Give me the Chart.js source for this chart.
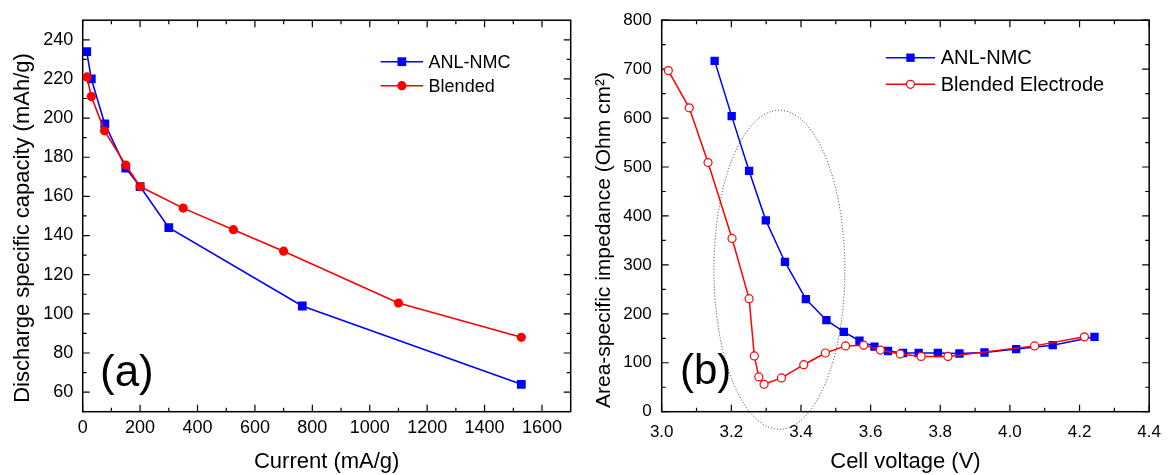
<!DOCTYPE html>
<html>
<head>
<meta charset="utf-8">
<script src="https://cdn.jsdelivr.net/npm/chart.js@4.4.1/dist/chart.umd.min.js"></script>
<style>
  html, body { margin: 0; padding: 0; background: #fff; }
  #wrap { position: relative; width: 1171px; height: 475px; }
  #chartA { position: absolute; left: 0; top: 0; }
  #chartB { position: absolute; left: 580px; top: 0; }
</style>
</head>
<body>
<div id="wrap">
  <canvas id="chartA" width="580" height="475"></canvas>
  <canvas id="chartB" width="591" height="475"></canvas>
</div>
<script>
// panel (a): discharge capacity vs current
const currentAnl = [14, 30, 77, 150, 200, 300, 765, 1528];
const capacityAnl = [234, 220, 197, 174.5, 165, 144, 104, 64];
const currentBlend = [15, 30, 76, 150, 200, 350, 525, 700, 1100, 1528];
const capacityBlend = [221, 211, 193.5, 176, 165, 154, 143, 132, 105.5, 88];
const currentTicks = [0, 200, 400, 600, 800, 1000, 1200, 1400, 1600];
const capacityTicks = [60, 80, 100, 120, 140, 160, 180, 200, 220, 240];

// panel (b): area-specific impedance vs cell voltage
const voltageAnl = [3.152, 3.201, 3.251, 3.299, 3.354, 3.414, 3.473, 3.523, 3.568, 3.611,
    3.650, 3.693, 3.738, 3.793, 3.855, 3.927, 4.018, 4.123, 4.243];
const impedanceAnl = [717, 604, 492, 391, 306, 230, 187, 163, 145, 133,
    124, 120, 120, 120, 119, 121, 128, 136, 153];
const voltageBlend = [3.019, 3.079, 3.133, 3.202, 3.251, 3.266, 3.279, 3.294, 3.344, 3.408,
    3.470, 3.528, 3.580, 3.628, 3.685, 3.745, 3.822, 4.071, 4.214];
const impedanceBlend = [697, 621, 509, 354, 231, 114, 71, 56, 69, 96,
    120, 134.5, 136, 126, 118, 113, 113, 134.5, 153];
const voltageTicks = [3.0, 3.2, 3.4, 3.6, 3.8, 4.0, 4.2, 4.4];
const impedanceTicks = [0, 100, 200, 300, 400, 500, 600, 700, 800];

// dotted ellipse marking the low-voltage region (in data units)
const ellipseCenter = [3.338, 290];
const ellipseRadius = [0.188, 326];

const FONT = '"Liberation Sans", Arial, Helvetica, sans-serif';

function toPoints(xs, ys) {
    return xs.map((x, i) => ({x: x, y: ys[i]}));
}

function midpoints(ticks) {
    const out = [];
    for (let i = 0; i < ticks.length - 1; i++) {
        out.push((ticks[i] + ticks[i + 1]) / 2);
    }
    return out;
}

// box around the plot with inward ticks on all four sides
const framePlugin = {
    id: 'frame',
    beforeDatasetsDraw(chart, args, opts) {
        const ctx = chart.ctx;
        const {left, right, top, bottom} = chart.chartArea;
        const xs = chart.scales.x, ys = chart.scales.y;
        ctx.save();
        ctx.strokeStyle = '#000';
        ctx.lineWidth = 1.2;
        const tick = (vals, len) => {
            vals.forEach(v => {
                const px = xs.getPixelForValue(v);
                ctx.beginPath();
                ctx.moveTo(px, bottom); ctx.lineTo(px, bottom - len);
                ctx.moveTo(px, top); ctx.lineTo(px, top + len);
                ctx.stroke();
            });
        };
        const tickY = (vals, len) => {
            vals.forEach(v => {
                const py = ys.getPixelForValue(v);
                ctx.beginPath();
                ctx.moveTo(left, py); ctx.lineTo(left + len, py);
                ctx.moveTo(right, py); ctx.lineTo(right - len, py);
                ctx.stroke();
            });
        };
        tick(opts.xMajor, 7);
        tick(opts.xMinor, 4);
        tickY(opts.yMajor, 7);
        tickY(opts.yMinor, 4);
        ctx.lineWidth = 1.5;
        ctx.strokeRect(left, top, right - left, bottom - top);
        ctx.restore();
    }
};

// legend drawn inside the plot, styled from the datasets
const boxLegendPlugin = {
    id: 'boxLegend',
    afterDraw(chart, args, opts) {
        const ctx = chart.ctx;
        ctx.save();
        opts.rows.forEach((y, i) => {
            const ds = chart.data.datasets[i];
            ctx.strokeStyle = ds.borderColor;
            ctx.lineWidth = ds.borderWidth;
            ctx.beginPath();
            ctx.moveTo(opts.lineX[0], y);
            ctx.lineTo(opts.lineX[1], y);
            ctx.stroke();
            const mx = (opts.lineX[0] + opts.lineX[1]) / 2;
            const r = ds.pointRadius;
            ctx.fillStyle = ds.pointBackgroundColor || ds.backgroundColor;
            ctx.beginPath();
            if (ds.pointStyle === 'rect') {
                const s = Math.SQRT1_2 * r;
                ctx.rect(mx - s, y - s, 2 * s, 2 * s);
            } else {
                ctx.arc(mx, y, r, 0, Math.PI * 2);
            }
            ctx.fill();
            if (ds.pointBorderWidth > 0) {
                ctx.lineWidth = ds.pointBorderWidth;
                ctx.strokeStyle = ds.pointBorderColor;
                ctx.stroke();
            }
            ctx.fillStyle = '#000';
            ctx.font = opts.fontSize + 'px ' + FONT;
            ctx.textAlign = 'left';
            ctx.textBaseline = 'middle';
            ctx.fillText(ds.label, opts.textX, y + 1);
        });
        ctx.restore();
    }
};

// rotated y-axis title and the panel letter
const textPlugin = {
    id: 'panelText',
    afterDraw(chart, args, opts) {
        const ctx = chart.ctx;
        ctx.save();
        ctx.fillStyle = '#000';
        ctx.font = opts.titleSize + 'px ' + FONT;
        ctx.translate(opts.titleX, opts.titleY);
        ctx.rotate(-Math.PI / 2);
        ctx.textAlign = 'center';
        ctx.textBaseline = 'alphabetic';
        ctx.fillText(opts.title, 0, 0);
        ctx.restore();
        ctx.save();
        ctx.fillStyle = '#000';
        ctx.font = opts.letterSize + 'px ' + FONT;
        ctx.textAlign = 'left';
        ctx.textBaseline = 'alphabetic';
        ctx.fillText(opts.letter, opts.letterX, opts.letterY);
        ctx.restore();
    }
};

const ellipsePlugin = {
    id: 'ellipse',
    afterDatasetsDraw(chart) {
        const ctx = chart.ctx;
        const xs = chart.scales.x, ys = chart.scales.y;
        const cx = xs.getPixelForValue(ellipseCenter[0]);
        const cy = ys.getPixelForValue(ellipseCenter[1]);
        const rx = xs.getPixelForValue(ellipseCenter[0] + ellipseRadius[0]) - cx;
        const ry = cy - ys.getPixelForValue(ellipseCenter[1] + ellipseRadius[1]);
        ctx.save();
        ctx.strokeStyle = '#333';
        ctx.lineWidth = 1;
        ctx.setLineDash([1, 2]);
        ctx.beginPath();
        ctx.ellipse(cx, cy, rx, ry, 0, 0, Math.PI * 2);
        ctx.stroke();
        ctx.restore();
    }
};

function axis(min, max, ticks, opts) {
    return {
        type: 'linear',
        min: min,
        max: max,
        grid: {display: false, drawTicks: false},
        border: {display: false},
        afterBuildTicks: s => { s.ticks = ticks.map(v => ({value: v})); },
        afterFit: opts.fit,
        ticks: {
            color: '#000',
            autoSkip: false,
            maxRotation: 0,
            padding: opts.padding,
            font: {family: FONT, size: opts.size},
            callback: opts.format || (v => v)
        },
        title: opts.title ? {
            display: true,
            text: opts.title,
            color: '#000',
            font: {family: FONT, size: 22},
            padding: {top: 0, bottom: 0}
        } : {display: false}
    };
}

window.chartA = new Chart(document.getElementById('chartA').getContext('2d'), {
    type: 'line',
    data: {
        datasets: [{
            label: 'ANL-NMC',
            data: toPoints(currentAnl, capacityAnl),
            borderColor: '#0000ff',
            backgroundColor: '#0000ff',
            borderWidth: 1.6,
            pointStyle: 'rect',
            pointRadius: 6.2,
            pointBorderWidth: 0,
            order: 1
        }, {
            label: 'Blended',
            data: toPoints(currentBlend, capacityBlend),
            borderColor: '#ff0000',
            backgroundColor: '#ff0000',
            borderWidth: 1.6,
            pointStyle: 'circle',
            pointRadius: 4.6,
            pointBorderWidth: 0,
            order: 0
        }]
    },
    options: {
        responsive: false,
        animation: false,
        devicePixelRatio: 1,
        layout: {padding: {left: 0, right: 9.3, top: 15.7, bottom: 0}},
        plugins: {
            legend: {display: false},
            tooltip: {enabled: false},
            frame: {
                xMajor: currentTicks, xMinor: midpoints(currentTicks),
                yMajor: capacityTicks, yMinor: midpoints(capacityTicks)
            },
            boxLegend: {rows: [61.7, 85.7], lineX: [380.6, 423.1], textX: 428.6, fontSize: 18},
            panelText: {
                title: 'Discharge specific capacity (mAh/g)', titleSize: 22, titleX: 28.7, titleY: 228,
                letter: '(a)', letterSize: 44, letterX: 100, letterY: 386
            }
        },
        scales: {
            x: axis(0, 1700, currentTicks, {
                size: 18, padding: 6, title: 'Current (mA/g)',
                fit: s => { s.height = 63.3; }
            }),
            y: axis(50, 250, capacityTicks, {
                size: 18, padding: 9.4,
                fit: s => { s.width = 82.7; }
            })
        }
    },
    plugins: [framePlugin, boxLegendPlugin, textPlugin]
});

window.chartB = new Chart(document.getElementById('chartB').getContext('2d'), {
    type: 'line',
    data: {
        datasets: [{
            label: 'ANL-NMC',
            data: toPoints(voltageAnl, impedanceAnl),
            borderColor: '#0000ff',
            backgroundColor: '#0000ff',
            borderWidth: 1.5,
            pointStyle: 'rect',
            pointRadius: 5.9,
            pointBorderWidth: 0,
            order: 1
        }, {
            label: 'Blended Electrode',
            data: toPoints(voltageBlend, impedanceBlend),
            borderColor: '#ff0000',
            backgroundColor: '#ff0000',
            pointBackgroundColor: '#ffffff',
            pointBorderColor: '#ff0000',
            borderWidth: 1.5,
            pointStyle: 'circle',
            pointRadius: 4,
            pointBorderWidth: 1.2,
            order: 0
        }]
    },
    options: {
        responsive: false,
        animation: false,
        devicePixelRatio: 1,
        layout: {padding: {left: 0, right: 19.3, top: 15.7, bottom: 0}},
        plugins: {
            legend: {display: false},
            tooltip: {enabled: false},
            frame: {
                xMajor: voltageTicks, xMinor: midpoints(voltageTicks),
                yMajor: impedanceTicks, yMinor: midpoints(impedanceTicks)
            },
            boxLegend: {rows: [57.7, 84.3], lineX: [305.9, 355.1], textX: 360.7, fontSize: 20},
            panelText: {
                title: 'Area-specific impedance (Ohm cm²)', titleSize: 21, titleX: 30, titleY: 240,
                letter: '(b)', letterSize: 42, letterX: 100, letterY: 384
            }
        },
        scales: {
            x: axis(3.0, 4.4, voltageTicks, {
                size: 17, padding: 10, title: 'Cell voltage (V)',
                format: v => Number(v).toFixed(1),
                fit: s => { s.height = 63.3; }
            }),
            y: axis(0, 800, impedanceTicks, {
                size: 17, padding: 10,
                fit: s => { s.width = 81.7; }
            })
        }
    },
    plugins: [framePlugin, boxLegendPlugin, textPlugin, ellipsePlugin]
});
</script>
</body>
</html>
